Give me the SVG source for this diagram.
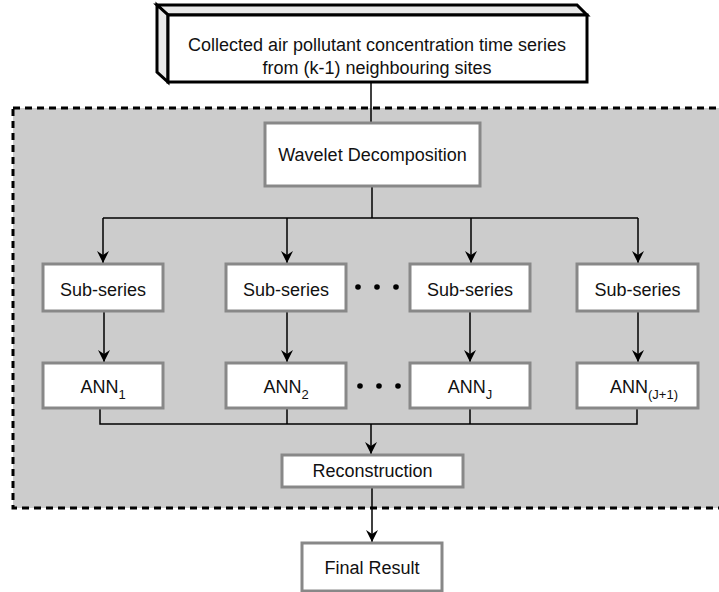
<svg xmlns="http://www.w3.org/2000/svg" width="719" height="592" viewBox="0 0 719 592">
<style>
.box{fill:#fff;stroke:#888;stroke-width:3}
.t{font-family:"Liberation Sans",Arial,sans-serif;font-size:18px;fill:#111;text-anchor:middle}
.sub{font-size:13px}
.c{fill:none;stroke:#000;stroke-width:1.5}
.dot{fill:#000}
</style>
<defs>
<marker id="ah" viewBox="0 0 12 12" refX="12" refY="6" markerWidth="12" markerHeight="12" markerUnits="userSpaceOnUse" orient="auto">
<path d="M0,0 L12,6 L0,12 L4,6 Z" fill="#000"/>
</marker>
</defs>
<rect x="13" y="108" width="720" height="400" fill="#ccc" stroke="#000" stroke-width="3" stroke-dasharray="7 5"/>
<g id="connectors">
<path class="c" d="M371,83 V123"/>
<path class="c" d="M372,186 V218 M103,218 H638"/>
<path class="c" d="M103,218 V263" marker-end="url(#ah)"/>
<path class="c" d="M287,218 V263" marker-end="url(#ah)"/>
<path class="c" d="M471,218 V263" marker-end="url(#ah)"/>
<path class="c" d="M638,218 V263" marker-end="url(#ah)"/>
<path class="c" d="M104,311 V362" marker-end="url(#ah)"/>
<path class="c" d="M287,311 V362" marker-end="url(#ah)"/>
<path class="c" d="M470,311 V362" marker-end="url(#ah)"/>
<path class="c" d="M638,311 V362" marker-end="url(#ah)"/>
<path class="c" d="M100,408 V424 H637 V408 M287,408 V424 M470,408 V424"/>
<path class="c" d="M371,424 V454" marker-end="url(#ah)"/>
<path class="c" d="M372,487 V542" marker-end="url(#ah)"/>
</g>
<g id="input">
<polygon points="157,5 577,5 587,15 168,15" fill="#e8e8e8" stroke="#000" stroke-width="3" stroke-linejoin="miter"/>
<polygon points="157,5 168,15 168,82 157,72" fill="#e8e8e8" stroke="#000" stroke-width="3"/>
<rect x="168" y="15" width="419" height="67" fill="#fff" stroke="#000" stroke-width="3"/>
<text class="t" x="377" y="51">Collected air pollutant concentration time series</text>
<text class="t" x="377" y="74">from (k-1) neighbouring sites</text>
</g>
<g id="wavelet">
<rect class="box" x="265" y="123" width="215" height="63"/>
<text class="t" x="372.5" y="161">Wavelet Decomposition</text>
</g>
<g id="sub1"><rect class="box" x="43" y="264" width="120" height="47"/><text class="t" x="103" y="296">Sub-series</text></g>
<g id="sub2"><rect class="box" x="226" y="264" width="120" height="47"/><text class="t" x="286" y="296">Sub-series</text></g>
<g id="sub3"><rect class="box" x="410" y="264" width="120" height="47"/><text class="t" x="470" y="296">Sub-series</text></g>
<g id="sub4"><rect class="box" x="577" y="264" width="121" height="47"/><text class="t" x="637.5" y="296">Sub-series</text></g>
<g id="ann1"><rect class="box" x="43" y="363" width="120" height="45"/><text class="t" x="103" y="393">ANN<tspan class="sub" dy="6">1</tspan></text></g>
<g id="ann2"><rect class="box" x="226" y="363" width="120" height="45"/><text class="t" x="286" y="393">ANN<tspan class="sub" dy="6">2</tspan></text></g>
<g id="annJ"><rect class="box" x="410" y="363" width="120" height="45"/><text class="t" x="470" y="393">ANN<tspan class="sub" dy="6">J</tspan></text></g>
<g id="annJ1"><rect class="box" x="577" y="363" width="121" height="45"/><text class="t" x="644" y="393">ANN<tspan class="sub" dy="6">(J+1)</tspan></text></g>
<g id="dots">
<circle class="dot" cx="358" cy="287" r="2.8"/><circle class="dot" cx="377" cy="287" r="2.8"/><circle class="dot" cx="396" cy="287" r="2.8"/>
<circle class="dot" cx="360" cy="386" r="2.8"/><circle class="dot" cx="379" cy="386" r="2.8"/><circle class="dot" cx="398" cy="386" r="2.8"/>
</g>
<g id="reconstruction"><rect class="box" x="282" y="455" width="181" height="32"/><text class="t" x="372.5" y="477">Reconstruction</text></g>
<g id="final"><rect class="box" x="302" y="543" width="140" height="48"/><text class="t" x="372" y="574">Final Result</text></g>
</svg>
